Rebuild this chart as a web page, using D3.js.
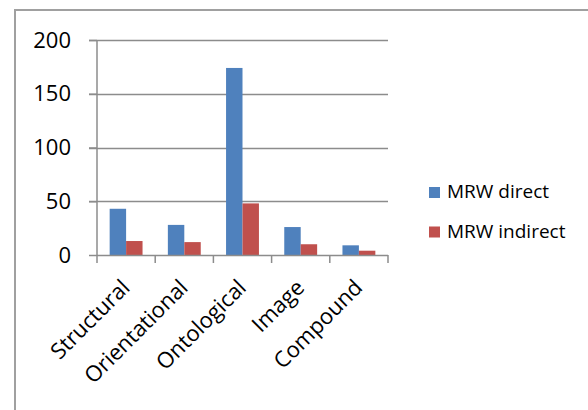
<!DOCTYPE html>
<html>
<head>
<meta charset="utf-8">
<script src="https://cdn.jsdelivr.net/npm/d3@7"></script>
<style>
  body { margin: 0; background: #fff; }
  text { font-family: "Open Sans", sans-serif; fill: #000; }
</style>
</head>
<body>
<div id="chart"></div>
<script>
const categories = ["Structural", "Orientational", "Ontological", "Image", "Compound"];
const seriesNames = ["MRW direct", "MRW indirect"];
const directValues = [43, 28, 174, 26, 9];
const indirectValues = [13, 12, 48, 10, 4];
const yTicks = [0, 50, 100, 150, 200];
const colors = ["#4f81bd", "#c0504d"];

const width = 588, height = 410;
const plot = {left: 97, right: 388, top: 40, bottom: 255};

let svg = d3.select("#chart")
    .append("svg")
    .attr("width", width)
    .attr("height", height);

// outer chart border (runs off the right and bottom)
svg.append("rect")
    .attr("x", 15).attr("y", 10)
    .attr("width", 600).attr("height", 420)
    .attr("fill", "none")
    .attr("stroke", "#a0a0a0")
    .attr("stroke-width", 2);

let xScale = d3.scaleBand()
    .domain(categories)
    .range([plot.left, plot.right]);

let yScale = d3.scaleLinear()
    .domain([0, 200])
    .range([plot.bottom, plot.top]);

// grid lines
svg.append("g")
    .selectAll("line")
    .data(yTicks.filter(d => d > 0))
    .enter()
    .append("line")
    .attr("x1", plot.left - 8)
    .attr("x2", plot.right)
    .attr("y1", d => Math.round(yScale(d)) + 0.5)
    .attr("y2", d => Math.round(yScale(d)) + 0.5)
    .attr("stroke", "#8c8c8c")
    .attr("stroke-width", 1.5);

// y axis
let yAxis = d3.axisLeft(yScale)
    .tickValues(yTicks)
    .tickSize(8)
    .tickPadding(18);
let yg = svg.append("g")
    .attr("transform", "translate(" + plot.left + ",0)")
    .call(yAxis);
yg.selectAll("line, path").attr("stroke", "#8c8c8c").attr("stroke-width", 1.5);
yg.select(".domain").attr("d", "M0," + plot.top + "V" + plot.bottom);
yg.selectAll("text")
    .style("font-size", "22px")
    .style("font-family", "'Open Sans', sans-serif");

// bars
let inner = d3.scaleBand()
    .domain([0, 1])
    .range([0, xScale.bandwidth()])
    .paddingOuter(0.77)
    .paddingInner(0);

let series = [directValues, indirectValues];
series.forEach(function (values, s) {
    svg.append("g")
        .selectAll("rect")
        .data(values)
        .enter()
        .append("rect")
        .attr("x", (d, i) => xScale(categories[i]) + inner(s))
        .attr("y", d => yScale(d))
        .attr("width", inner.bandwidth())
        .attr("height", d => yScale(0) - yScale(d))
        .attr("fill", colors[s]);
});

// x axis
let xg = svg.append("g")
    .attr("transform", "translate(0," + plot.bottom + ")");
xg.append("line")
    .attr("x1", plot.left).attr("x2", plot.right)
    .attr("y1", 0.5).attr("y2", 0.5)
    .attr("stroke", "#8c8c8c").attr("stroke-width", 1.5);
let tickXs = categories.map(c => xScale(c)).concat([plot.right]);
xg.selectAll(".tick")
    .data(tickXs)
    .enter()
    .append("line")
    .attr("x1", d => d).attr("x2", d => d)
    .attr("y1", 0).attr("y2", 8)
    .attr("stroke", "#8c8c8c").attr("stroke-width", 1.5);

xg.selectAll(".label")
    .data(categories)
    .enter()
    .append("text")
    .attr("transform", d => "translate(" + (xScale(d) + xScale.bandwidth() / 2 + 5) + ",34) rotate(-45)")
    .style("text-anchor", "end")
    .style("font-size", "22px")
    .text(d => d);

// legend
let legend = svg.append("g")
    .attr("transform", "translate(429,187)");
seriesNames.forEach(function (name, i) {
    let row = legend.append("g").attr("transform", "translate(0," + i * 39.5 + ")");
    row.append("rect")
        .attr("width", 11).attr("height", 11)
        .attr("fill", colors[i]);
    row.append("text")
        .attr("x", 18).attr("y", 11)
        .style("font-size", "19px")
        .text(name);
});
</script>
</body>
</html>
